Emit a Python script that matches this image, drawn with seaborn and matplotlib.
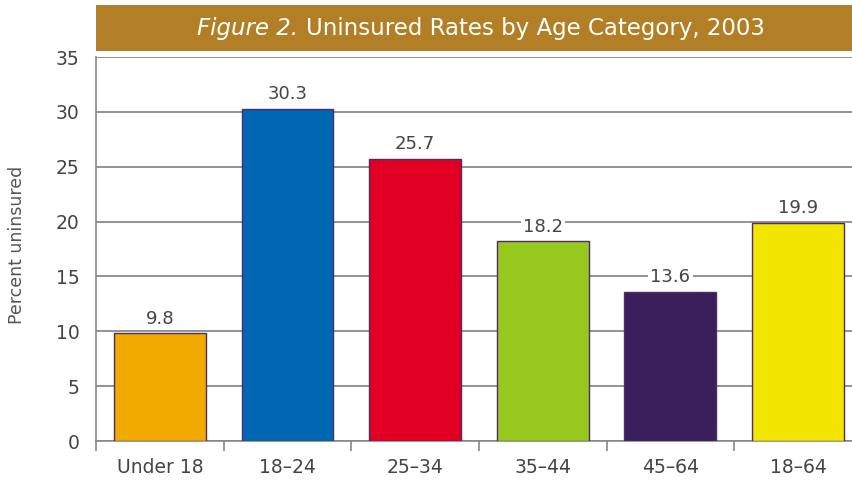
import matplotlib
matplotlib.use("Agg")
import matplotlib.pyplot as plt
import seaborn as sns
import pandas as pd
from matplotlib.patches import Rectangle

# Data
categories = ["Under 18", "18\u201324", "25\u201334", "35\u201344", "45\u201364", "18\u201364"]
values = [9.8, 30.3, 25.7, 18.2, 13.6, 19.9]
bar_colors = ["#F2A900", "#0068B3", "#E10024", "#97C81E", "#3B1F5C", "#F2E600"]
y_ticks = [0, 5, 10, 15, 20, 25, 30, 35]

df = pd.DataFrame({"age": categories, "rate": values})

sns.set_theme(style="white")
plt.rcParams["font.family"] = ["DejaVu Sans"]

W, H = 853, 486
fig = plt.figure(figsize=(W / 100, H / 100), dpi=100)
ax = fig.add_axes([96 / W, 1 - 441 / H, (W - 96) / W, (441 - 57) / H])

sns.barplot(data=df, x="age", y="rate", hue="age", palette=bar_colors,
            legend=False, width=0.72, edgecolor="#4B2C6B", linewidth=1.0,
            saturation=1, ax=ax, zorder=3)

ax.set_ylim(0, 35)
ax.set_xlim(-0.49, 5.43)
ax.set_yticks(y_ticks)
ax.set_yticklabels([str(t) for t in y_ticks], fontsize=13.5, color="#444444")
ax.tick_params(axis="y", left=False, length=0, pad=12)

# x tick marks at category boundaries, labels at centers
ax.set_xticks([i + 0.5 for i in range(-1, 5)], minor=False)
ax.set_xticklabels([])
ax.set_xticks(range(6), minor=True)
ax.set_xticklabels(categories, minor=True, fontsize=13.5, color="#444444")
ax.tick_params(axis="x", which="major", bottom=True, length=7.2, width=1.2,
               color="#888888", direction="out")
ax.tick_params(axis="x", which="minor", bottom=True, length=0, pad=12)

ax.set_xlabel("")
ax.set_ylabel("Percent uninsured", fontsize=12.5, color="#555555")
ax.yaxis.set_label_coords(-70 / (W - 96), 0.51)

ax.grid(axis="y", color="#808080", linewidth=1.2, zorder=0)
ax.set_axisbelow(True)
for s in ["top", "right"]:
    ax.spines[s].set_visible(False)
for s in ["left", "bottom"]:
    ax.spines[s].set_color("#888888")
    ax.spines[s].set_linewidth(1.2)

for c in ax.containers:
    ax.bar_label(c, fmt="%.1f", padding=4, fontsize=13, color="#444444",
                 bbox=dict(facecolor="white", edgecolor="none", pad=1.5), zorder=4)

# Title band
fig.patches.append(Rectangle((96 / W, 1 - 51 / H), (W - 96) / W, 46 / H,
                             transform=fig.transFigure, facecolor="#B27F26",
                             edgecolor="none"))
fig.text(298 / W, 1 - 35 / H, "Figure 2.", style="italic", color="white",
         fontsize=16.5, ha="right", va="baseline")
fig.text(306 / W, 1 - 35 / H, "Uninsured Rates by Age Category, 2003", color="white",
         fontsize=16.5, ha="left", va="baseline")

fig.savefig("out.png", dpi=100)
